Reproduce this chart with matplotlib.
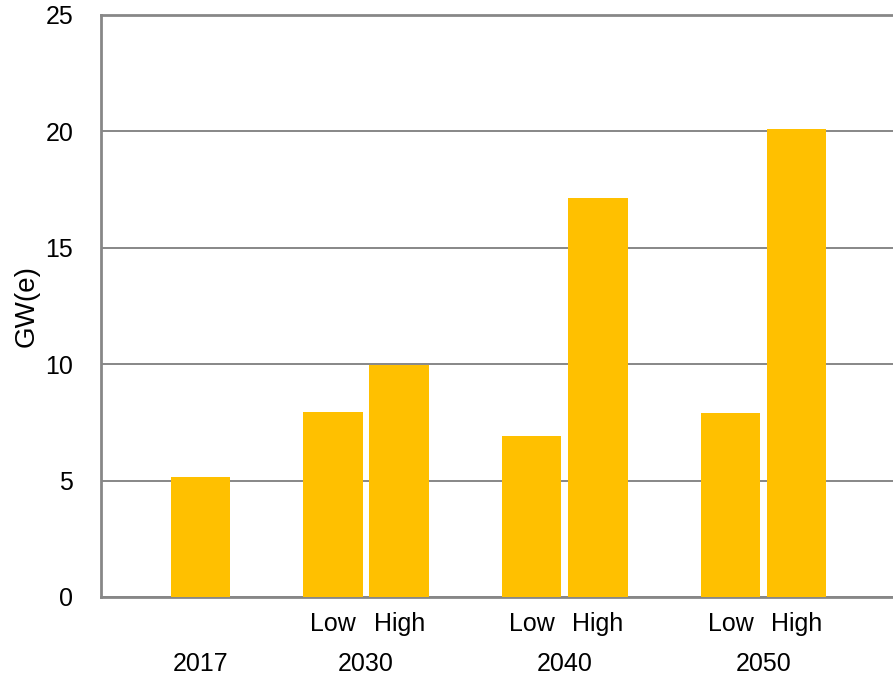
import numpy as np
import matplotlib
matplotlib.use('Agg')
import matplotlib.pyplot as plt
import matplotlib.transforms as mtransforms

plt.rcParams['font.family'] = ['Liberation Sans', 'DejaVu Sans']

# data
years = ['2017', '2030', '2040', '2050']
scenarios = ['', 'Low', 'High', 'Low', 'High', 'Low', 'High']
bar_year = ['2017', '2030', '2030', '2040', '2040', '2050', '2050']
values = [5.15, 7.95, 9.95, 6.92, 17.15, 7.9, 20.12]

# slot layout: one empty slot between year groups
slots = [0, 2, 3, 5, 6, 8, 9]

fig = plt.figure(figsize=(8.93, 6.79), dpi=100)
ax = fig.add_axes([101 / 893, 1 - 597 / 679, 795 / 893, 582 / 679])

grey = '#878787'
fs = 18
ax.bar(slots, values, width=0.9, color='#FFC000', zorder=3)

ax.set_xlim(-1.5, 10.5)
ax.set_ylim(0, 25)
ax.set_yticks([0, 5, 10, 15, 20, 25])
ax.yaxis.grid(True, color=grey, linewidth=1.4, zorder=0)
ax.tick_params(axis='y', length=0, pad=20, labelsize=fs)
ax.tick_params(axis='x', length=0, pad=11, labelsize=fs)
ax.set_xticks(slots)
ax.set_xticklabels(scenarios)

for side in ['left', 'bottom', 'top']:
    ax.spines[side].set_color(grey)
    ax.spines[side].set_linewidth(2)
ax.spines['right'].set_visible(False)

ax.set_ylabel('GW(e)', fontsize=20, labelpad=4)

# year labels under each group
trans = mtransforms.blended_transform_factory(ax.transData, ax.transAxes)
for yr in years:
    xs = [s for s, b in zip(slots, bar_year) if b == yr]
    ax.text(np.mean(xs), -67 / 582, yr, transform=trans, ha='center',
            va='center', fontsize=fs)

fig.savefig('out.png', dpi=100)
